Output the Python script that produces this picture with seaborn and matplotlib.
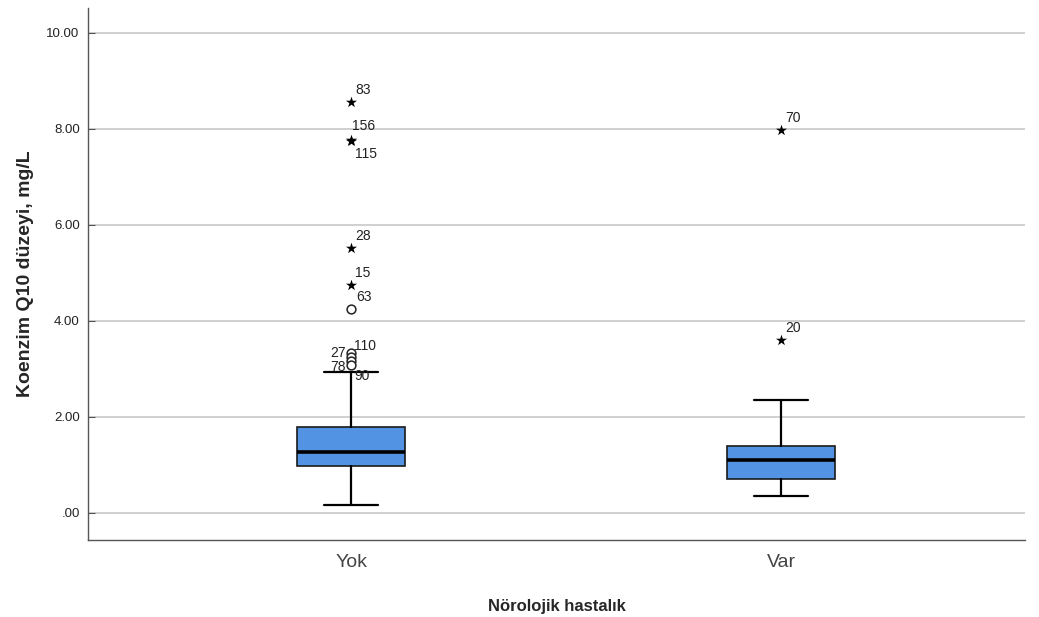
import matplotlib
matplotlib.use("Agg")
import matplotlib.pyplot as plt
import seaborn as sns
import pandas as pd

# Group names and five-number summaries (mg/L)
groups = ["Yok", "Var"]
q1 = [0.98, 0.71]
medians = [1.27, 1.10]
q3 = [1.79, 1.40]
whisker_low = [0.17, 0.35]
whisker_high = [2.94, 2.35]

# Outlying cases: group, value, case id, kind (o = outlier, * = extreme)
out_group = ["Yok", "Yok", "Yok", "Yok", "Yok", "Yok", "Yok", "Yok", "Yok", "Yok", "Var", "Var"]
out_value = [8.56, 7.76, 7.74, 5.52, 4.75, 4.25, 3.33, 3.24, 3.16, 3.09, 7.98, 3.60]
out_case = ["83", "156", "115", "28", "15", "63", "27", "110", "78", "90", "70", "20"]
out_kind = ["*", "*", "*", "*", "*", "o", "o", "o", "o", "o", "*", "*"]
# label placement around each point (pixels)
out_dx = [4, 1, 4, 4, 4, 5, -21, 3, -21, 3, 4, 4]
out_dy = [12, 14, -13, 12, 12, 12, 0, 11, -6, -11, 12, 12]

sns.set_style("white")
plt.rcParams["font.family"] = ["Liberation Sans", "DejaVu Sans"]

fig = plt.figure(figsize=(10.39, 6.17), dpi=100)
ax = fig.add_axes([88 / 1039, 1 - 540 / 617, (1025 - 88) / 1039, (540 - 8) / 617])

box_color = "#5293e3"
stats = []
for i, g in enumerate(groups):
    stats.append(dict(label=g, q1=q1[i], med=medians[i], q3=q3[i],
                      whislo=whisker_low[i], whishi=whisker_high[i], fliers=[]))

ax.bxp(stats, positions=range(len(groups)), widths=0.25, patch_artist=True,
       showfliers=False,
       boxprops=dict(facecolor=box_color, edgecolor="#1a1a1a", linewidth=1.2),
       medianprops=dict(color="black", linewidth=2.6),
       whiskerprops=dict(color="black", linewidth=1.6),
       capprops=dict(color="black", linewidth=1.6),
       capwidths=0.125, zorder=3)

df = pd.DataFrame({"group": out_group, "value": out_value, "case": out_case,
                   "kind": out_kind, "dx": out_dx, "dy": out_dy})
df["x"] = df["group"].map({g: i for i, g in enumerate(groups)})

sns.scatterplot(data=df[df["kind"] == "*"], x="x", y="value", marker="*", s=70,
                color="black", linewidth=0, ax=ax, zorder=4, legend=False)
sns.scatterplot(data=df[df["kind"] == "o"], x="x", y="value", marker="o", s=40,
                facecolor="white", edgecolor="#222222", linewidth=1.1, ax=ax,
                zorder=4, legend=False)

for _, r in df.iterrows():
    ax.annotate(r["case"], (r["x"], r["value"]), xytext=(r["dx"], r["dy"]),
                textcoords="offset pixels", fontsize=10, color="#222222",
                ha="left", va="center", zorder=5)

ax.set_xlim(-0.612, 1.567)
ax.set_ylim(-0.5625, 10.52)
ax.set_yticks([0, 2, 4, 6, 8, 10])
ax.set_yticklabels([".00", "2.00", "4.00", "6.00", "8.00", "10.00"], fontsize=9.5,
                   color="#222222")
ax.set_xticks(range(len(groups)))
ax.set_xticklabels(groups, fontsize=14, color="#444444")
ax.grid(axis="y", color="#c8c8c8", linewidth=1.2, zorder=0)
ax.set_axisbelow(True)

for side in ["top", "right"]:
    ax.spines[side].set_visible(False)
for side in ["left", "bottom"]:
    ax.spines[side].set_color("#555555")
    ax.spines[side].set_linewidth(1.0)
ax.tick_params(axis="y", direction="in", length=5, color="#555555", pad=6, left=True)
ax.tick_params(axis="x", length=0, pad=10)

ax.set_ylabel("Koenzim Q10 düzeyi, mg/L", fontsize=14, fontweight="bold", labelpad=9)
ax.set_xlabel("Nörolojik hastalık", fontsize=12, fontweight="bold", labelpad=20)

fig.savefig("out.png", dpi=100)
